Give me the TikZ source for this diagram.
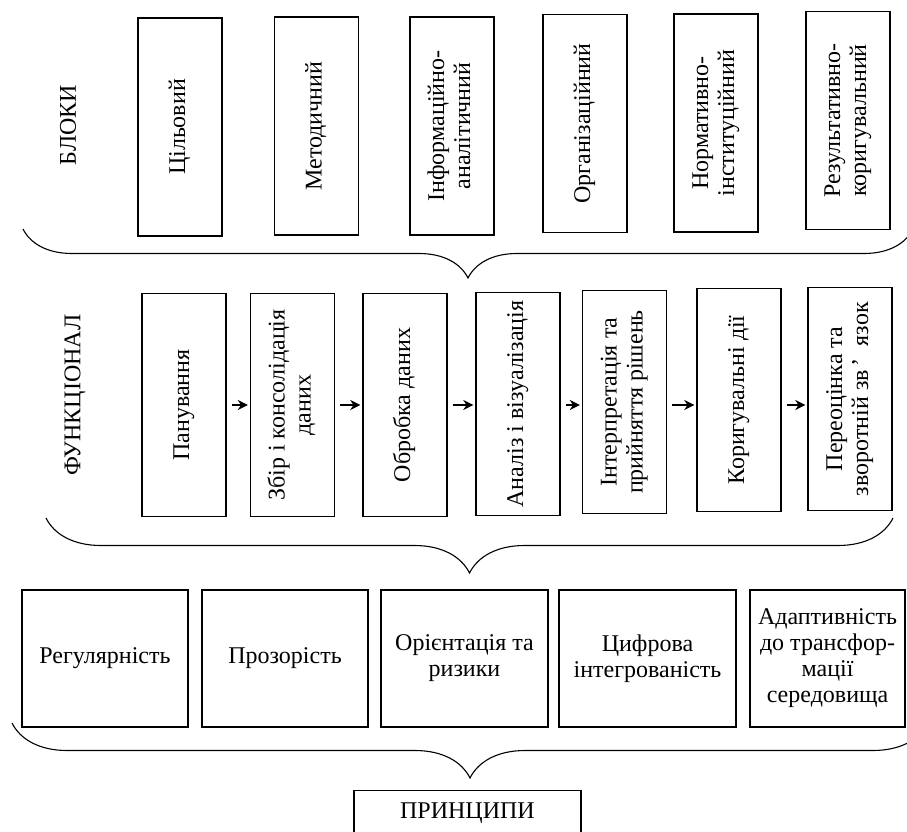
\documentclass[tikz,border=0pt]{standalone}
\usepackage{fontspec}
\setmainfont{Liberation Serif}
\usepackage{graphicx}
\usepackage{tikz}
\usetikzlibrary{arrows.meta}
\usetikzlibrary{decorations.pathreplacing}
\tikzstyle{arrow} = [-{Stealth[length=10pt,width=10pt]},line width=2.5pt,shorten <=5pt,shorten >=2pt]
\tikzstyle{box} = [draw,line width=1.4pt,inner sep=0pt,align=center]
\tikzstyle{brc} = [decorate,line width=1.1pt]
\newcommand{\vtext}[1]{\rotatebox{90}{\begin{tabular}{@{}c@{}}#1\end{tabular}}}

\begin{document}
\begin{tikzpicture}[x=1pt,y=-1pt,font=\fontsize{24}{26}\selectfont]
\useasboundingbox (0,0) rectangle (907,832);
\clip (0,0) rectangle (907,832);
% blocks
\node (lblok) at (68,125) {\rotatebox{90}{БЛОКИ}};
\node[box,minimum width=84,minimum height=218] (B1) at (180,127) {\vtext{Цільовий}};
\node[box,minimum width=84,minimum height=218] (B2) at (316.5,126) {\vtext{Методичний}};
\node[box,minimum width=84,minimum height=218] (B3) at (452,126) {\vtext{Інформаційно-\\аналітичний}};
\node[box,minimum width=84,minimum height=218] (B4) at (585,123.5) {\vtext{Організаційний}};
\node[box,minimum width=84,minimum height=218] (B5) at (716,123) {\vtext{Нормативно-\\інституційний}};
\node[box,minimum width=84,minimum height=218] (B6) at (848,120.5) {\vtext{Результативно-\\коригувальний}};
\coordinate (b1l) at (23,229);
\coordinate (b1r) at (913,229);
\draw[brc,decoration={brace,mirror,amplitude=49pt}] (b1l) -- (b1r);
% functional
\node (lfunk) at (75,395) {\rotatebox{90}{ФУНКЦІОНАЛ}};
\node[box,minimum width=84,minimum height=223] (F1) at (184,405) {\vtext{Панування}};
\node[box,minimum width=84,minimum height=223] (F2) at (292.5,405) {\vtext{Збір і консолідація\\даних}};
\node[box,minimum width=84,minimum height=223] (F3) at (405,405) {\vtext{Обробка даних}};
\node[box,minimum width=84,minimum height=223] (F4) at (518,404) {\vtext{Аналіз і візуалізація}};
\node[box,minimum width=84,minimum height=223] (F5) at (624.5,402) {\vtext{Інтерпретація та\\прийняття рішень}};
\node[box,minimum width=84,minimum height=223] (F6) at (739,400) {\vtext{Коригувальні дії}};
\node[box,minimum width=84,minimum height=223] (F7) at (850,399) {\vtext{Переоцінка та\\зворотній зв\,’\enspace язок}};
\draw[arrow] (F1.east) -- (F1.east -| F2.west);
\draw[arrow] (F2.east) -- (F2.east -| F3.west);
\draw[arrow] (F3.east) -- (F3.east -| F4.west);
\draw[arrow] (F3.east -| F4.east) -- (F3.east -| F5.west);
\draw[arrow] (F3.east -| F5.east) -- (F3.east -| F6.west);
\draw[arrow] (F3.east -| F6.east) -- (F3.east -| F7.west);
\coordinate (b2l) at (46,518);
\coordinate (b2r) at (893,518);
\draw[brc,decoration={brace,mirror,amplitude=55pt}] (b2l) -- (b2r);
% principles
\node[box,minimum width=166,minimum height=137] (P1) at (105,658.5) {Регулярність};
\node[box,minimum width=166,minimum height=137] (P2) at (285,658.5) {Прозорість};
\node[box,minimum width=167,minimum height=137] (P3) at (464.5,658.5) {Орієнтація та\\ризики};
\node[box,minimum width=177,minimum height=137] (P4) at (647.5,658.5) {Цифрова\\інтегрованість};
\node[box,minimum width=155,minimum height=137] (P5) at (827.5,658.5) {Адаптивність\\до трансфор-\\мації\\середовища};
\coordinate (b3l) at (12,723);
\coordinate (b3r) at (928,723);
\draw[brc,decoration={brace,mirror,amplitude=55pt}] (b3l) -- (b3r);
\node[box,minimum width=227,minimum height=44,anchor=north] (princ) at (467.5,790) {ПРИНЦИПИ};
\end{tikzpicture}
\end{document}
